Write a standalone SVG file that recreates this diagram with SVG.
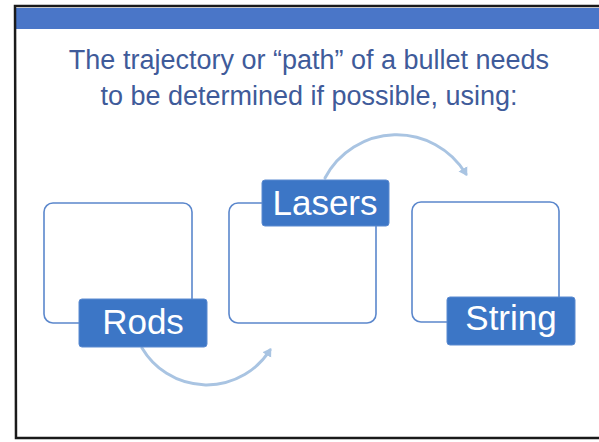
<svg xmlns="http://www.w3.org/2000/svg" width="599" height="442" viewBox="0 0 599 442">
<style>
.title{font-family:"Liberation Sans",Arial,sans-serif;font-size:27px;fill:#3f5b9a;text-anchor:middle}
.frame{fill:none;stroke:#1a1a1a;stroke-width:2.5}
.box{fill:#ffffff;stroke:#5b87cc;stroke-width:1.6}
.lab{fill:#3c76c6;stroke:#5b8ad0;stroke-width:1}
.labt{font-family:"Liberation Sans",Arial,sans-serif;font-size:35px;fill:#ffffff;text-anchor:middle}
.arc{fill:none;stroke:#a9c4e2;stroke-width:3;stroke-linecap:round}
</style>
<defs>
<marker id="ah" markerWidth="5" markerHeight="5" refX="2" refY="2.5" orient="auto" markerUnits="strokeWidth">
<path d="M0,0.8 L2.8,2.5 L0,4.2 Z" fill="#a9c4e2"/>
</marker>
</defs>
<rect x="0" y="0" width="599" height="442" fill="#ffffff"/>
<rect x="15" y="8" width="584" height="21" fill="#4a76c8"/>
<path class="frame" d="M599,6 L15,6 L16,438 L599,438"/>
<text class="title" x="309" y="69">The trajectory or “path” of a bullet needs</text>
<text class="title" x="309" y="105">to be determined if possible, using:</text>
<g id="connectors">
<path class="arc" d="M325,178 A81,81 0 0 1 466,174" marker-end="url(#ah)"/>
<path class="arc" d="M142,348 A75,75 0 0 0 270,350" marker-end="url(#ah)"/>
</g>
<g id="rods">
<rect class="box" x="44" y="203" width="148" height="120" rx="9"/>
<rect class="lab" x="79" y="299" width="128" height="48" rx="3"/>
<text class="labt" x="143" y="334">Rods</text>
</g>
<g id="lasers">
<rect class="box" x="229" y="203" width="147" height="120" rx="9"/>
<rect class="lab" x="262" y="180" width="127" height="46" rx="3"/>
<text class="labt" x="325" y="215">Lasers</text>
</g>
<g id="string">
<rect class="box" x="412" y="202" width="147" height="120" rx="9"/>
<rect class="lab" x="447" y="297" width="128" height="48" rx="3"/>
<text class="labt" x="511" y="330">String</text>
</g>
</svg>
